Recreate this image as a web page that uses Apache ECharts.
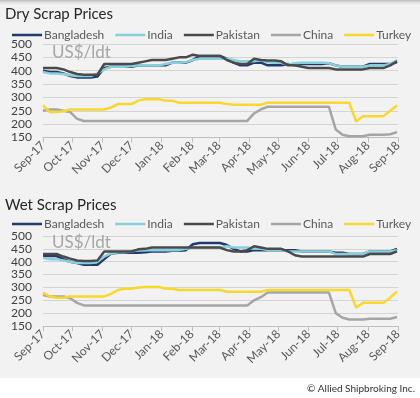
<!DOCTYPE html>
<html><head><meta charset="utf-8">
<script src="https://cdn.jsdelivr.net/npm/echarts@6/dist/echarts.min.js"></script>
<style>html,body{margin:0;padding:0;background:#fff}#c{width:420px;height:398px}</style>
</head><body><div id="c"></div>
<script>
// ---- data ----
var seriesNames = ['Bangladesh', 'India', 'Pakistan', 'China', 'Turkey'];
var monthLabels = ['Sep-17','Oct-17','Nov-17','Dec-17','Jan-18','Feb-18','Mar-18','Apr-18','May-18','Jun-18','Jul-18','Aug-18','Sep-18'];
var yTicks = [150, 200, 250, 300, 350, 400, 450, 500];
var startDate = '2017-09-01'; // weekly observations from this date

var dryBangladesh = [400,395,395,390,380,375,375,375,378,410,415,415,415,415,420,420,420,420,420,430,430,430,440,455,455,455,455,445,430,420,420,430,430,420,420,420,425,420,425,425,425,425,428,420,415,415,415,415,425,425,425,425,432];
var dryIndia      = [395,390,390,388,383,380,380,380,390,405,415,415,415,418,420,420,420,420,425,430,430,432,440,445,445,445,445,445,440,435,435,435,440,432,430,430,422,428,430,430,430,430,428,420,415,415,415,415,420,420,420,425,440];
var dryPakistan   = [410,410,410,405,395,388,385,385,385,425,425,425,425,425,430,435,440,440,440,445,450,450,460,455,455,455,455,440,430,425,425,445,440,438,438,435,420,420,415,410,410,410,410,405,405,405,405,405,410,410,410,420,435];
var dryChina      = [250,255,255,250,245,220,212,212,212,212,212,212,212,212,212,212,212,212,212,212,212,212,212,212,212,212,212,212,212,212,212,240,255,265,265,265,265,265,265,265,265,265,265,180,160,155,155,155,160,160,160,162,170];
var dryTurkey     = [270,245,245,248,255,255,255,255,255,255,262,275,275,275,288,293,293,293,288,288,280,280,280,280,280,280,280,275,273,273,273,273,273,280,280,280,280,280,280,280,280,280,280,280,280,280,210,230,230,230,230,250,270];

var wetBangladesh = [422,422,422,410,400,395,388,388,388,410,432,435,435,435,435,437,440,440,440,443,443,445,468,473,473,473,473,465,450,440,440,445,445,445,445,445,445,445,440,440,440,440,440,435,435,430,430,430,440,440,440,440,450];
var wetIndia      = [415,410,410,405,400,395,395,395,400,420,432,437,437,440,445,445,445,445,445,445,445,450,455,455,455,455,455,460,455,455,455,450,450,445,445,445,440,440,440,440,440,440,440,430,430,430,430,430,440,440,440,440,445];
var wetPakistan   = [430,430,430,420,412,405,403,403,405,440,440,440,440,440,448,450,455,455,455,455,455,455,455,455,455,455,455,445,440,440,445,460,455,450,450,450,440,425,420,420,420,420,420,420,420,420,420,420,430,430,430,430,440];
var wetChina      = [270,265,265,265,258,240,230,230,230,230,230,230,230,230,230,230,230,230,230,230,230,230,230,230,230,230,230,230,230,230,230,250,262,280,280,280,280,280,280,280,280,280,280,200,182,175,175,175,178,178,178,178,185];
var wetTurkey     = [280,265,260,260,265,265,265,265,265,265,275,290,295,295,300,302,302,302,295,295,290,290,290,290,290,290,290,283,283,283,283,283,283,290,290,290,290,290,290,290,290,290,290,290,290,290,222,240,240,240,240,260,285];

// ---- build ----
var DAY = 86400000;
var t0 = Date.parse(startDate + 'T00:00:00Z');
function dayOf(ts){ return Math.round((ts - t0) / DAY); }
var monthDays = monthLabels.map(function(l, k){ return dayOf(Date.UTC(2017, 8 + k, 1)); });
function toPoints(vals){ return vals.map(function(v, i){ return [i * 7, v]; }); }

var colors = ['#1f3a6b', '#86cfdd', '#4a4a4a', '#a5a5a5', '#f7d82b'];
var FONT = 'Lato';

function xAxis(gi){
  return {
    type: 'value', gridIndex: gi, min: 0, max: monthDays[monthDays.length - 1],
    splitLine: {show: false},
    axisLine: {show: true, lineStyle: {color: '#bfbfbf', width: 1}},
    axisTick: {show: true, customValues: monthDays, length: 5, lineStyle: {color: '#bfbfbf'}},
    axisLabel: {customValues: monthDays, rotate: 45, margin: 6, color: '#595959', fontSize: 12, fontFamily: FONT,
      formatter: function(v){ var i = monthDays.indexOf(Math.round(v)); return i >= 0 ? monthLabels[i] : ''; }}
  };
}
function yAxis(gi){
  return {
    type: 'value', gridIndex: gi, min: yTicks[0], max: yTicks[yTicks.length - 1], interval: 50,
    axisLine: {show: false}, axisTick: {show: false},
    splitLine: {show: true, lineStyle: {color: '#d4d4d4', width: 1}},
    axisLabel: {margin: 11, color: '#404040', fontSize: 12, fontFamily: FONT}
  };
}
var dry = [dryBangladesh, dryIndia, dryPakistan, dryChina, dryTurkey];
var wet = [wetBangladesh, wetIndia, wetPakistan, wetChina, wetTurkey];
var series = [];
[dry, wet].forEach(function(set, gi){
  set.forEach(function(vals, k){
    series.push({
      type: 'line', name: seriesNames[k], xAxisIndex: gi, yAxisIndex: gi,
      data: toPoints(vals), showSymbol: false, symbol: 'none',
      lineStyle: {width: 2.5, color: colors[k]}, itemStyle: {color: colors[k]},
      animation: false, z: 2 + k
    });
  });
});
function legend(top){
  return {
    data: seriesNames, left: 12, top: top, width: 410, padding: 0, icon: 'rect', itemWidth: 30, itemHeight: 2.5, itemGap: 11,
    selectedMode: false,
    textStyle: {color: '#595959', fontSize: 12, fontFamily: FONT, padding: [0, 0, 0, -3]}
  };
}
var chart = echarts.init(document.getElementById('c'), null, {renderer: 'canvas'});
chart.setOption({
  animation: false,
  color: colors,
  backgroundColor: '#ffffff',
  title: [
    {text: 'Dry Scrap Prices', left: 5, top: 7, padding: 0, textStyle: {fontSize: 15, fontWeight: 'normal', color: '#262626', fontFamily: FONT}},
    {text: 'Wet Scrap Prices', left: 5, top: 198, padding: 0, textStyle: {fontSize: 15, fontWeight: 'normal', color: '#262626', fontFamily: FONT}}
  ],
  legend: [legend(29), legend(218)],
  grid: [
    {left: 43, right: 22, top: 44, height: 93.5},
    {left: 43, right: 22, top: 236, height: 90}
  ],
  xAxis: [xAxis(0), xAxis(1)],
  yAxis: [yAxis(0), yAxis(1)],
  graphic: [
    {type: 'rect', z: -10, silent: true, shape: {x: 0, y: 0, width: 420, height: 378}, style: {fill: '#f2f2f2'}},
    {type: 'rect', z: -9, silent: true, shape: {x: 0, y: 0, width: 420, height: 6},
      style: {fill: new echarts.graphic.LinearGradient(0, 0, 0, 1, [{offset: 0, color: '#b8b8b8'}, {offset: 1, color: 'rgba(242,242,242,0)'}])}},
    {type: 'text', left: 52, top: 44, z: 1, silent: true, style: {text: 'US$/ldt', fill: '#a6a6a6', fontSize: 17, fontFamily: FONT}},
    {type: 'text', left: 52, top: 234, z: 1, silent: true, style: {text: 'US$/ldt', fill: '#a6a6a6', fontSize: 17, fontFamily: FONT}},
    {type: 'text', right: 5, top: 384, silent: true, style: {text: '\u00a9 Allied Shipbroking Inc.', fill: '#333333', fontSize: 10, fontFamily: FONT}}
  ],
  series: series
});
</script>
</body></html>
